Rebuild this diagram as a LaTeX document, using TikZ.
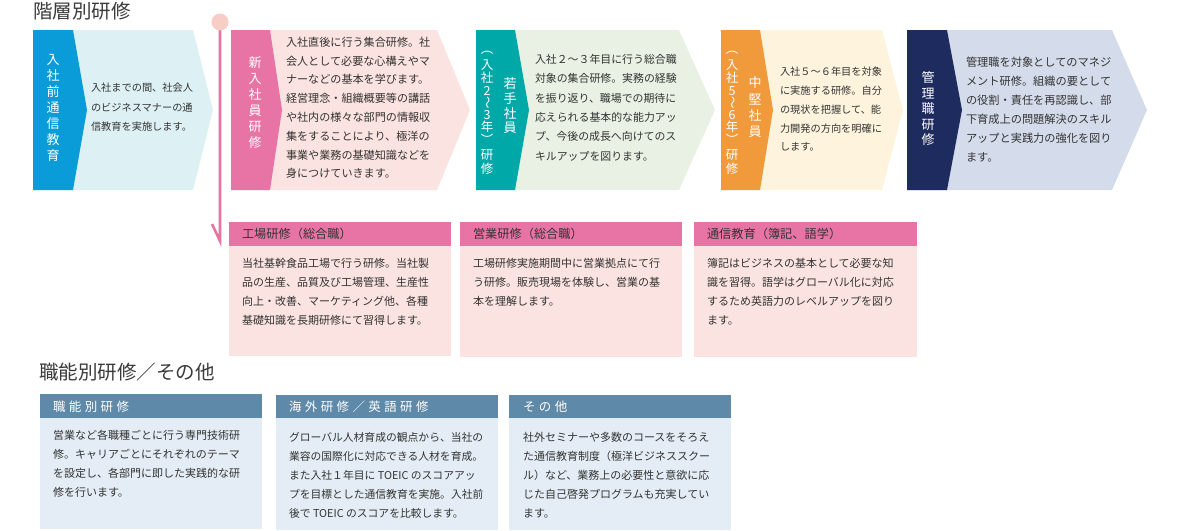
\documentclass[tikz,border=0pt]{standalone}
\usepackage{fontspec}
\usepackage{graphicx}
\newfontfamily\jp{Noto Sans CJK JP}
\newfontfamily\jpls{Noto Sans CJK JP}[LetterSpace=27]
\definecolor{txt}{HTML}{333333}
\definecolor{ttl}{HTML}{3A3A3A}
\definecolor{tabA}{HTML}{0A9CD8}
\definecolor{panA}{HTML}{DDF0F3}
\definecolor{tabB}{HTML}{E874A5}
\definecolor{panB}{HTML}{FAE3E0}
\definecolor{tabC}{HTML}{00A8A8}
\definecolor{panC}{HTML}{E9F1E4}
\definecolor{tabD}{HTML}{F09A3C}
\definecolor{panD}{HTML}{FEF4DE}
\definecolor{tabE}{HTML}{1E2B5E}
\definecolor{panE}{HTML}{D4DBEA}
\definecolor{circ}{HTML}{F7CDC6}
\definecolor{steel}{HTML}{5F89A9}
\definecolor{steelbg}{HTML}{E4EDF5}
\newcommand\stagebox[7]{%
  \fill[#6] (#1,30) -- (#4,30) -- (#5,110) -- (#4,190) -- (#1,190) -- cycle;
  \fill[#7] (#1,30) -- (#2,30) -- (#3,110) -- (#2,190) -- (#1,190) -- cycle;}
\newcommand\vstack[4]{%
  \foreach \c [count=\i from 0] in {#4} \node[tabtxt] at (#1,#2+#3*\i) {\c};}
\begin{document}
\begin{tikzpicture}[x=1pt,y=-1pt,
  every node/.style={inner sep=0pt,outer sep=0pt},
  body/.style={anchor=north west,align=left,text=txt,font=\jp\fontsize{11}{19}\selectfont},
  tabtxt/.style={text=white,font=\jp\fontsize{13}{13}\selectfont},
  tabsmall/.style={text=white,font=\jp\fontsize{12.5}{12.5}\selectfont},
  title/.style={anchor=west,text=ttl,font=\jp\fontsize{19.5}{20}\selectfont},
  pinkhead/.style={anchor=west,text=txt,font=\jp\fontsize{12.2}{13}\selectfont},
  bluehead/.style={anchor=west,text=white,font=\jpls\fontsize{12.5}{13}\selectfont},
  pinkline/.style={draw=tabB,line width=2.6pt}]
\useasboundingbox (0,0) rectangle (1180,530);

% titles
\node[title] (t1) at (33,11) {階層別研修};
\node[title] (t2) at (39,372) {職能別研修／その他};

% stages
\stagebox{33}{73}{87}{193}{213}{panA}{tabA}
\stagebox{231}{270}{282}{437}{470}{panB}{tabB}
\stagebox{476}{515}{529}{679}{715}{panC}{tabC}
\stagebox{721}{760}{773}{882}{903}{panD}{tabD}
\stagebox{907}{947}{962}{1112}{1147}{panE}{tabE}

% timeline
\coordinate (tlc) at (220,22);
\coordinate (tlend) at (220,241);
\draw[pinkline] (tlc) -- (tlend) -- ++(-8,-17);
\node[circle,fill=circ,minimum size=17pt] (tl) at (tlc) {};

% tab texts
\vstack{53}{60}{16}{入,社,前,通,信,教,育}
\vstack{255}{63}{16}{新,入,社,員,研,修}
\vstack{510}{84}{14.7}{若,手,社,員}
\foreach \c/\yy in {︵/53,入/65,社/78,2/91,{\rotatebox{-90}{〜}}/103,3/115,年/127,︶/139,研/155,修/169}
  \node[tabsmall] at (487,\yy) {\c};
\vstack{755}{83}{16.3}{中,堅,社,員}
\foreach \c/\yy in {︵/53,入/65,社/78,5/91,{\rotatebox{-90}{〜}}/103,6/115,年/127,︶/139,研/155,修/169}
  \node[tabsmall] at (732,\yy) {\c};
\vstack{928}{78}{15.5}{管,理,職,研,修}

% stage texts
\node[body,font=\jp\fontsize{10.2}{19.5}\selectfont] (s1) at (91,83) {入社までの間、社会人\\のビジネスマナーの通\\信教育を実施します。};
\node[body,font=\jp\fontsize{11.1}{18.8}\selectfont] (s2) at (286,37) {入社直後に行う集合研修。社\\会人として必要な心構えやマ\\ナーなどの基本を学びます。\\経営理念・組織概要等の講話\\や社内の様々な部門の情報収\\集をすることにより、極洋の\\事業や業務の基礎知識などを\\身につけていきます。};
\node[body,font=\jp\fontsize{10.9}{19.4}\selectfont] (s3) at (535,54) {入社２〜３年目に行う総合職\\対象の集合研修。実務の経験\\を振り返り、職場での期待に\\応えられる基本的な能力アッ\\プ、今後の成長へ向けてのス\\キルアップを図ります。};
\node[body,font=\jp\fontsize{10.2}{18.8}\selectfont] (s4) at (780,67) {入社５〜６年目を対象\\に実施する研修。自分\\の現状を把握して、能\\力開発の方向を明確に\\します。};
\node[body,font=\jp\fontsize{11.2}{19}\selectfont] (s5) at (966,57) {管理職を対象としてのマネジ\\メント研修。組織の要として\\の役割・責任を再認識し、部\\下育成上の問題解決のスキル\\アップと実践力の強化を図り\\ます。};

% pink boxes
\fill[panB] (229,246) rectangle (451,356);
\fill[tabB] (229,222) rectangle (451,246);
\fill[panB] (460,246) rectangle (682,357);
\fill[tabB] (460,222) rectangle (682,246);
\fill[panB] (694,246) rectangle (917,357);
\fill[tabB] (694,222) rectangle (917,246);
\node[pinkhead] (ha) at (242,234) {工場研修（総合職）};
\node[pinkhead] (hb) at (473,234) {営業研修（総合職）};
\node[pinkhead] (hc) at (707,234) {通信教育（簿記、語学）};
\node[body] (ba) at (242,258) {当社基幹食品工場で行う研修。当社製\\品の生産、品質及び工場管理、生産性\\向上・改善、マーケティング他、各種\\基礎知識を長期研修にて習得します。};
\node[body] (bb) at (473,258) {工場研修実施期間中に営業拠点にて行\\う研修。販売現場を体験し、営業の基\\本を理解します。};
\node[body] (bc) at (707,258) {簿記はビジネスの基本として必要な知\\識を習得。語学はグローバル化に対応\\するため英語力のレベルアップを図り\\ます。};

% blue boxes
\fill[steelbg] (40,418) rectangle (262,529);
\fill[steel] (40,394) rectangle (262,418);
\fill[steelbg] (276,418) rectangle (498,530);
\fill[steel] (276,395) rectangle (498,418);
\fill[steelbg] (509,418) rectangle (731,530);
\fill[steel] (509,395) rectangle (731,418);
\node[bluehead] (hd) at (53,406.5) {職能別研修};
\node[bluehead] (he) at (289,406.5) {海外研修／英語研修};
\node[bluehead] (hf) at (523,406.5) {その他};
\node[body] (bd) at (53,430) {営業など各職種ごとに行う専門技術研\\修。キャリアごとにそれぞれのテーマ\\を設定し、各部門に即した実践的な研\\修を行います。};
\node[body,font=\jp\fontsize{10.8}{19}\selectfont] (be) at (289,432) {グローバル人材育成の観点から、当社の\\業容の国際化に対応できる人材を育成。\\また入社１年目に TOEIC のスコアアッ\\プを目標とした通信教育を実施。入社前\\後で TOEIC のスコアを比較します。};
\node[body] (bf) at (523,432) {社外セミナーや多数のコースをそろえ\\た通信教育制度（極洋ビジネススクー\\ル）など、業務上の必要性と意欲に応\\じた自己啓発プログラムも充実してい\\ます。};
\end{tikzpicture}
\end{document}
